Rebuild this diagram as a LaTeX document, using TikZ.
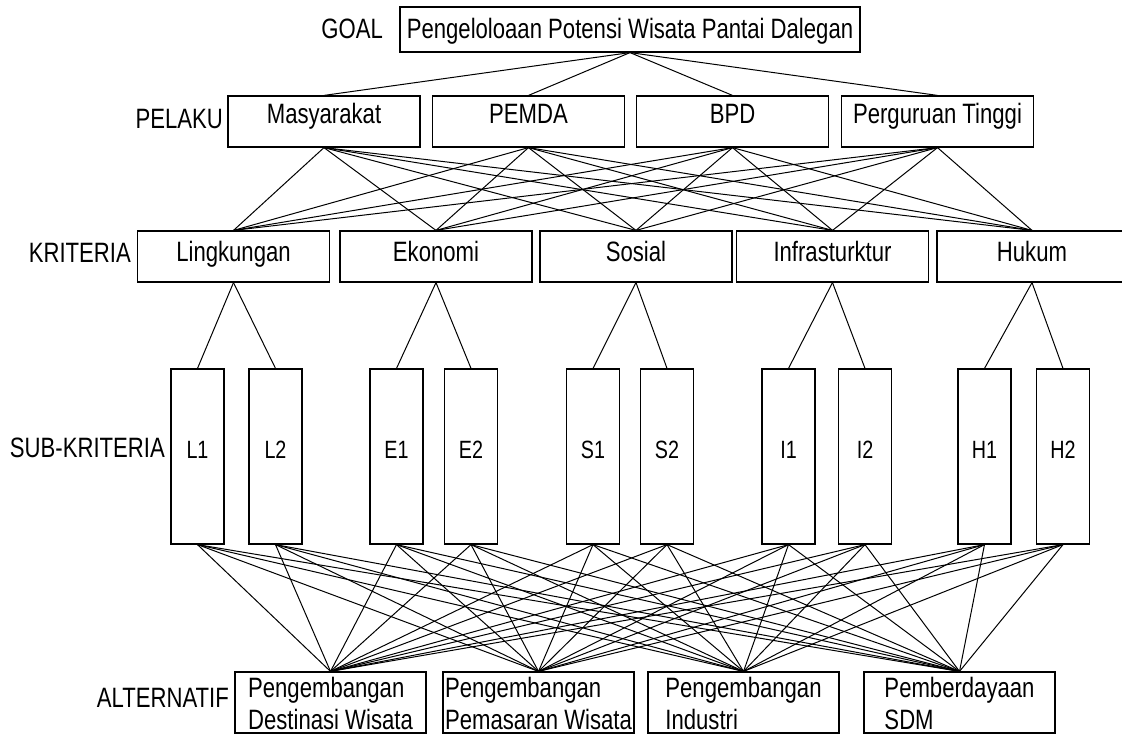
\documentclass[tikz,border=0pt]{standalone}
\usepackage{fontspec}
\setmainfont{Liberation Sans}[FakeStretch=0.79]
\begin{document}
\begin{tikzpicture}[x=1pt,y=-1pt,
  box/.style={draw, line width=1.2pt, inner sep=0pt, font=\fontsize{28}{32}\selectfont},
  gbox/.style={box, minimum width=460pt, text height=31pt, text depth=14pt},
  pbox/.style={box, minimum width=192pt, text height=27pt, text depth=24pt},
  kbox/.style={box, minimum width=192pt, text height=30pt, text depth=21pt},
  sbox/.style={box, minimum width=53pt, text height=89pt, text depth=86pt, font=\fontsize{25}{28}\selectfont},
  abox/.style={box, minimum width=191pt, align=left, text height=57pt, text depth=4pt},
  lvl/.style={font=\fontsize{28}{32}\selectfont, anchor=base east, inner sep=0pt},
  link/.style={line width=1pt}]
\useasboundingbox (0,0) rectangle (1122,734);

% goal
\node[gbox] (goal) at (630,29.5) {Pengeloloaan Potensi Wisata Pantai Dalegan};
\node[lvl] (lgoal) at (383,38) {GOAL};

% pelaku
\node[pbox] (p1) at (324,121.5) {Masyarakat};
\node[pbox] (p2) at (528.5,121.5) {PEMDA};
\node[pbox] (p3) at (732.5,121.5) {BPD};
\node[pbox] (p4) at (937.5,121.5) {Perguruan Tinggi};
\node[lvl] (lpel) at (223,128) {PELAKU};

% kriteria
\node[kbox] (k1) at (233.5,256.5) {Lingkungan};
\node[kbox] (k2) at (436,256.5) {Ekonomi};
\node[kbox] (k3) at (636,256.5) {Sosial};
\node[kbox] (k4) at (832.5,256.5) {Infrasturktur};
\node[kbox, minimum width=190pt] (k5) at (1032,256.5) {Hukum};
\node[lvl] (lkri) at (131,262) {KRITERIA};

% sub-kriteria
\node[sbox] (L1) at (197.5,456.5) {L1};
\node[sbox] (L2) at (275.5,456.5) {L2};
\node[sbox] (E1) at (396.5,456.5) {E1};
\node[sbox] (E2) at (471,456.5) {E2};
\node[sbox] (S1) at (593,456.5) {S1};
\node[sbox] (S2) at (667,456.5) {S2};
\node[sbox] (I1) at (788.5,456.5) {I1};
\node[sbox] (I2) at (865,456.5) {I2};
\node[sbox] (H1) at (984.5,456.5) {H1};
\node[sbox] (H2) at (1063,456.5) {H2};
\node[lvl] (lsub) at (165,457) {SUB-KRITERIA};

% alternatif
\node[abox] (a1) at (330.5,702.5) {Pengembangan\\Destinasi Wisata};
\node[abox] (a2) at (538.5,702.5) {Pengembangan\\Pemasaran Wisata};
\node[abox] (a3) at (743.5,702.5) {Pengembangan\\Industri};
\node[abox] (a4) at (959.5,702.5) {Pemberdayaan\\SDM};
\node[lvl] (lalt) at (229,707) {ALTERNATIF};

% connectors
\foreach \p in {p1,p2,p3,p4}
  \draw[link] (goal.south) -- (\p.north);
\foreach \p in {p1,p2,p3,p4}
  \foreach \k in {k1,k2,k3,k4,k5}
    \draw[link] (\p.south) -- (\k.north);
\foreach \k/\a/\b in {k1/L1/L2,k2/E1/E2,k3/S1/S2,k4/I1/I2,k5/H1/H2}{
  \draw[link] (\k.south) -- (\a.north);
  \draw[link] (\k.south) -- (\b.north);
}
\foreach \s in {L1,L2,E1,E2,S1,S2,I1,I2,H1,H2}
  \foreach \a in {a1,a2,a3,a4}
    \draw[link] (\s.south) -- (\a.north);
\end{tikzpicture}
\end{document}
